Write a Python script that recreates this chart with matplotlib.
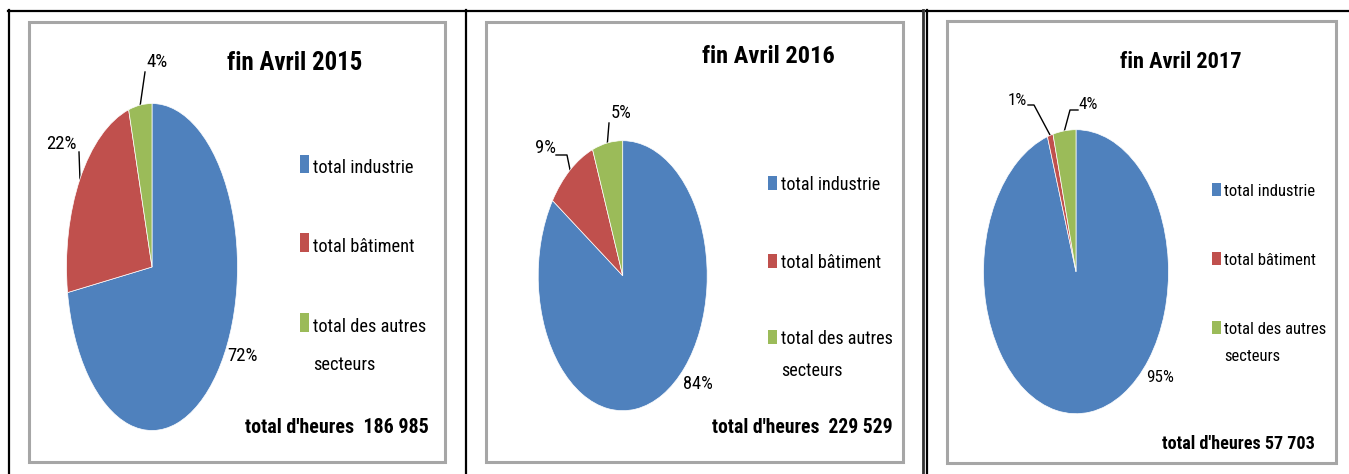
import matplotlib
matplotlib.use("Agg")
import matplotlib.pyplot as plt
from matplotlib import font_manager
from matplotlib.patches import Rectangle
import numpy as np

# ---------------- data ----------------
years = ["2015", "2016", "2017"]
categories = ["total industrie", "total bâtiment", "total des autres\nsecteurs"]
shares_2015 = [72.5, 23.1, 4.4]
shares_2016 = [84.4, 9.8, 5.8]
shares_2017 = [95.0, 1.0, 4.0]
pct_labels_2015 = ["72%", "22%", "4%"]
pct_labels_2016 = ["84%", "9%", "5%"]
pct_labels_2017 = ["95%", "1%", "4%"]
total_hours = ["186 985", "229 529", "57 703"]
total_sep = ["  ", "  ", " "]
colors = ["#4F81BD", "#C0504D", "#9BBB59"]

shares = [shares_2015, shares_2016, shares_2017]
pct_labels = [pct_labels_2015, pct_labels_2016, pct_labels_2017]

# ---------------- font choice: prefer a condensed sans face ----------------
W, H = 1349, 474
fam, stretch = "Liberation Sans", "normal"
cands = []
for f in font_manager.fontManager.ttflist:
    fn = f.fname.lower()
    if ("condensed" in fn or "narrow" in fn) and "mono" not in fn and "serif" not in fn \
            and "extra" not in fn and "semi" not in fn and "italic" not in fn and "oblique" not in fn:
        cands.append(f)
pref = ["Roboto Condensed", "Liberation Sans Narrow", "Open Sans Condensed",
        "Noto Sans Condensed", "DejaVu Sans", "Roboto", "Noto Sans", "Open Sans"]
chosen = None
for name in pref:
    for f in cands:
        if f.name == name:
            chosen = f
            break
    if chosen:
        break
if chosen is not None:
    fam, stretch = chosen.name, chosen.stretch
plt.rcParams["font.family"] = [fam, "DejaVu Sans"]
plt.rcParams["font.stretch"] = stretch

GROW = 1.08  # text in the reference is taller than a width-matched font gives

panels = [
    dict(box=(29, 22, 445, 462), pie=(152, 267, 85.5, 163.5),
         title=(294.5, 70, 125), total=(245, 433, 170), pct_w=28,
         leg=dict(sq_x=300, sq_w=9, sq=[(155, 173), (233, 252), (313, 332)],
                  tx=313, base=[173, 252, 332], line2=370, tw=93),
         lab=[((243, 356), []), ((61.5, 144), [(79, 152)]), ((157, 62), [(145, 72)])]),
    dict(box=(486, 22, 902.7, 462), pie=(622.7, 275.7, 84.5, 135),
         title=(768.7, 62.7, 122.7), total=(711.7, 433, 167.6), pct_w=27.7,
         leg=dict(sq_x=768.3, sq_w=8.4, sq=[(176, 190), (254, 268), (330, 344)],
                  tx=780.7, base=[190, 268, 344], line2=376, tw=92),
         lab=[((698, 384), []), ((545.5, 148), [(556, 155), (567, 155)]),
              ((621, 112.7), [(609, 123)])]),
    dict(box=(946.7, 21, 1336, 463), pie=(1076, 271.7, 92.5, 142),
         title=(1180.5, 68.3, 112.4), total=(1162.3, 449.3, 141.7), pct_w=25.7,
         leg=dict(sq_x=1211.7, sq_w=9.3, sq=[(182.7, 196), (251.7, 265), (320.7, 334)],
                  tx=1224.3, base=[196, 265, 334], line2=361, tw=84),
         lab=[((1160, 378), []), ((1017, 100), [(1028, 105), (1034, 105)]),
              ((1088, 104), [(1078, 110), (1070, 110)])]),
]

fig = plt.figure(figsize=(W / 100, H / 100), dpi=100)
fig.patch.set_facecolor("white")
bg = fig.add_axes([0, 0, 1, 1])
bg.set_xlim(0, W)
bg.set_ylim(H, 0)
bg.axis("off")
renderer = fig.canvas.get_renderer()


def fit_size(s, target_w, weight="normal", base=12.0):
    t = bg.text(0, 0, s, fontsize=base, fontweight=weight)
    w = t.get_window_extent(renderer).width
    t.remove()
    return base * target_w / w * GROW


# outer table lines
bg.plot([8, 923], [10.5, 10.5], color="black", lw=1.6)
bg.plot([926, W], [10.5, 10.5], color="black", lw=1.6)
bg.plot([8.5, 8.5], [10, H], color="black", lw=1.6)
bg.plot([465.5, 465.5], [10, H], color="black", lw=1.6)
bg.plot([922.5, 922.5], [10, H], color="#333333", lw=2.0)
bg.plot([926.5, 926.5], [10, H], color="black", lw=1.6)

for i, p in enumerate(panels):
    x0, y0, x1, y1 = p["box"]
    bg.add_patch(Rectangle((x0, y0), x1 - x0, y1 - y0, facecolor="white",
                           edgecolor="#A6A6A6", lw=2.2, zorder=1))

    cx, cy, rx, ry = p["pie"]
    ax = fig.add_axes([(cx - rx) / W, (H - (cy + ry)) / H, 2 * rx / W, 2 * ry / H])
    wedges, _ = ax.pie(shares[i], colors=colors, startangle=90, counterclock=False,
                       wedgeprops=dict(edgecolor="white", linewidth=0.5))
    ax.set_aspect("auto")
    ax.set_xlim(-1, 1)
    ax.set_ylim(-1, 1)
    ax.axis("off")

    # title
    tx, tb, tw = p["title"]
    title = f"fin Avril {years[i]}"
    bg.text(tx, tb, title, ha="center", va="baseline", fontweight="bold",
            fontsize=fit_size(title, tw, "bold"), zorder=5)

    # total
    ttx, ttb, ttw = p["total"]
    tot = f"total d'heures{total_sep[i]}{total_hours[i]}"
    bg.text(ttx, ttb, tot, ha="left", va="baseline", fontweight="bold",
            fontsize=fit_size(tot, ttw, "bold"), zorder=5)

    # legend
    lg = p["leg"]
    lsize = fit_size(categories[0], lg["tw"])
    for k, cat in enumerate(categories):
        sy0, sy1 = lg["sq"][k]
        bg.add_patch(Rectangle((lg["sq_x"], sy0), lg["sq_w"], sy1 - sy0,
                               facecolor=wedges[k].get_facecolor(), edgecolor="none", zorder=5))
        lines = cat.split("\n")
        bg.text(lg["tx"], lg["base"][k], lines[0], ha="left", va="baseline",
                fontsize=lsize, zorder=5)
        if len(lines) > 1:
            bg.text(lg["tx"], lg["line2"], lines[1], ha="left", va="baseline",
                    fontsize=lsize, zorder=5)

    # percentage labels + leader lines
    psize = fit_size(pct_labels[i][0], p["pct_w"])
    for k, w in enumerate(wedges):
        (lx, ly), leader = p["lab"][k]
        bg.text(lx, ly, pct_labels[i][k], ha="center", va="center",
                fontsize=psize, zorder=6)
        if leader:
            th = np.deg2rad((w.theta1 + w.theta2) / 2)
            dx, dy = ax.transData.transform((np.cos(th), np.sin(th)))
            xs = [pt[0] for pt in leader] + [dx]
            ys = [pt[1] for pt in leader] + [H - dy]
            bg.plot(xs, ys, color="black", lw=1.0, zorder=6)

fig.savefig("out.png", dpi=100, facecolor="white")
